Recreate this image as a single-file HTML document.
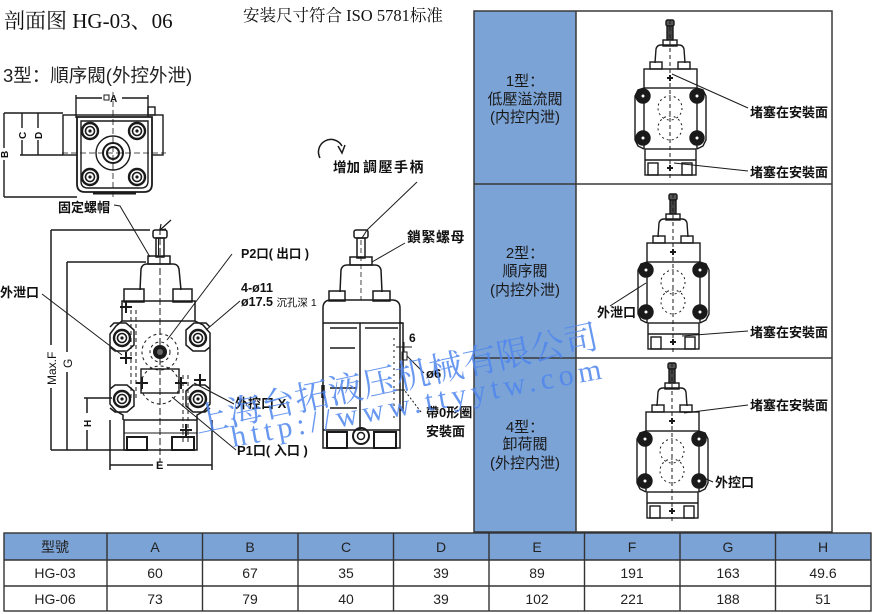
<!DOCTYPE html>
<html>
<head>
<meta charset="utf-8">
<style>
html,body{margin:0;padding:0;background:#fff;}
#wrap{position:relative;width:877px;height:614px;overflow:hidden;background:#fff;}
svg{position:absolute;left:0;top:0;}
.cj{font-family:"Liberation Sans","Noto Sans CJK SC",sans-serif;}
.sf{font-family:"Liberation Serif","Noto Serif CJK SC",serif;}
</style>
</head>
<body>
<div id="wrap">
<svg width="877" height="614" viewBox="0 0 877 614" xmlns="http://www.w3.org/2000/svg">
<defs>
  <g id="bolt">
    <circle r="8" fill="none" stroke="#1a1a1a" stroke-width="2.4"/>
    <circle r="4.5" fill="none" stroke="#1a1a1a" stroke-width="1.6"/>
    <circle r="1.6" fill="#1a1a1a"/>
  </g>
  <g id="sbolt">
    <circle r="7" fill="#1a1a1a"/>
    <circle r="2.2" fill="#fff"/>
  </g>
  <g id="sv" fill="none" stroke="#1a1a1a" stroke-width="1.4">
    <rect x="-4" y="0" width="8" height="6" rx="1.5" fill="#555"/>
    <rect x="-3" y="6" width="6" height="14" fill="#444"/>
    <rect x="-7" y="20" width="14" height="6"/>
    <path d="M-15,43 L-14,29 Q-13,25 -9,25 L9,25 Q13,25 14,29 L15,43"/>
    <rect x="-20" y="42" width="12" height="7"/>
    <rect x="8" y="42" width="12" height="7"/>
    <rect x="-26" y="49" width="53" height="19"/>
    <path d="M-26,68 L-32,70 L-35,76 L-35,120 L-32,126 L-26,129 M27,68 L33,70 L36,76 L36,120 L33,126 L27,129"/>
    <line x1="-26" y1="68" x2="-26" y2="129"/>
    <line x1="27" y1="68" x2="27" y2="129"/>
    <rect x="-25" y="129" width="51" height="26"/>
    <line x1="-25" y1="140" x2="26" y2="140"/>
    <rect x="-22" y="143" width="10" height="12"/>
    <rect x="12" y="143" width="10" height="12"/>
    <line x1="0" y1="0" x2="0" y2="158" stroke-dasharray="4,3" stroke-width="1"/>
    <circle cx="0" cy="88" r="12" stroke-dasharray="2,3" stroke-width="1"/>
    <circle cx="0" cy="108" r="12" stroke-dasharray="2,3" stroke-width="1"/>
    <use href="#sbolt" x="-27" y="76"/>
    <use href="#sbolt" x="27" y="76"/>
    <use href="#sbolt" x="-27" y="118"/>
    <use href="#sbolt" x="27" y="118"/>
    <path d="M-3,58 h6 M0,55 v6 M-3,148 h6 M0,145 v6" stroke-width="2"/>
  </g>
</defs>

<!-- ============ Titles ============ -->
<text x="4" y="28" class="sf" font-size="21" fill="#111">剖面图 HG-03、06</text>
<text x="243" y="21" class="sf" font-size="16.5" fill="#111">安装尺寸符合 ISO 5781标准</text>
<text x="3" y="82" class="cj" font-size="18.5" fill="#222">3型：順序閥(外控外泄)</text>

<!-- ============ Top view ============ -->
<g fill="none" stroke="#1a1a1a" stroke-width="1.4">
  <line x1="76" y1="98" x2="102" y2="98"/>
  <line x1="122" y1="98" x2="148" y2="98"/>
  <line x1="76" y1="95" x2="76" y2="118"/>
  <line x1="148" y1="95" x2="148" y2="118"/>
  <rect x="104" y="95" width="5" height="5" stroke-width="1"/>
  <rect x="148" y="107" width="7" height="8"/>
  <rect x="63" y="115" width="100" height="40"/>
  <path d="M77,117 L152,117 L152,184 Q152,192 144,192 L85,192 Q77,192 77,184 Z" fill="#fff" stroke-width="1.8"/>
  <path d="M81,121 L148,121 L148,181 Q148,188 141,188 L88,188 Q81,188 81,181 Z"/>
  <line x1="93" y1="193" x2="136" y2="193" stroke-width="3"/>
  <circle cx="113" cy="153" r="17"/>
  <circle cx="113" cy="153" r="10" stroke-width="2"/>
  <circle cx="113" cy="153" r="6" stroke-width="2"/>
  <line x1="113" y1="92" x2="113" y2="200" stroke-width="0.8" stroke-dasharray="6,3"/>
  <line x1="62" y1="153" x2="166" y2="153" stroke-width="0.8" stroke-dasharray="6,3"/>
  <line x1="4" y1="113" x2="63" y2="113"/>
  <line x1="4" y1="197" x2="77" y2="197"/>
  <line x1="20" y1="155" x2="63" y2="155"/>
  <line x1="4" y1="113" x2="4" y2="197"/>
  <line x1="22" y1="113" x2="22" y2="155"/>
  <line x1="38" y1="113" x2="38" y2="155"/>
</g>
<use href="#bolt" x="90" y="131"/>
<use href="#bolt" x="137" y="131"/>
<use href="#bolt" x="90" y="177"/>
<use href="#bolt" x="137" y="177"/>
<rect x="3" y="148" width="3" height="12" fill="#fff"/>
<rect x="20" y="128" width="4" height="12" fill="#fff"/>
<rect x="36" y="128" width="4" height="12" fill="#fff"/>
<text x="110" y="102" class="cj" font-size="10" font-weight="bold" fill="#111">A</text>
<text transform="translate(26,139) rotate(-90)" class="cj" font-size="10" font-weight="bold" fill="#111">C</text>
<text transform="translate(42,139) rotate(-90)" class="cj" font-size="10" font-weight="bold" fill="#111">D</text>
<text transform="translate(8,158) rotate(-90)" class="cj" font-size="10" font-weight="bold" fill="#111">B</text>

<!-- labels near top -->
<text x="58" y="212" class="cj" font-size="13" font-weight="bold" fill="#111">固定螺帽</text>
<polyline points="114,205 120,206 150,257" fill="none" stroke="#1a1a1a" stroke-width="1"/>
<line x1="171" y1="220" x2="160" y2="230" stroke="#1a1a1a" stroke-width="1.2"/>
<path d="M160,230 l1,-6 M160,230 l6,-1" stroke="#1a1a1a" stroke-width="1.2" fill="none"/>

<path d="M342,146 A11,11 0 1 0 320,158" fill="none" stroke="#1a1a1a" stroke-width="1.5"/>
<path d="M338,146 L342,153 L345,145" fill="none" stroke="#1a1a1a" stroke-width="1.5"/>
<text x="333" y="172" class="cj" font-size="13.5" font-weight="bold" fill="#111">增加</text>
<text x="363" y="172" class="cj" font-size="14" font-weight="bold" fill="#111" letter-spacing="1.5">調壓手柄</text>
<line x1="417" y1="182" x2="367" y2="230" stroke="#1a1a1a" stroke-width="1"/>
<line x1="367" y1="230" x2="362" y2="238" stroke="#1a1a1a" stroke-width="1"/>

<!-- ============ Front view ============ -->
<g fill="none" stroke="#1a1a1a" stroke-width="1.5">
  <!-- dimension lines -->
  <line x1="51" y1="230" x2="150" y2="230"/>
  <line x1="67" y1="262" x2="146" y2="262"/>
  <line x1="51" y1="450" x2="126" y2="450"/>
  <line x1="84" y1="398" x2="112" y2="398"/>
  <line x1="51" y1="230" x2="51" y2="345"/>
  <line x1="51" y1="388" x2="51" y2="450"/>
  <line x1="67" y1="262" x2="67" y2="352"/>
  <line x1="67" y1="372" x2="67" y2="450"/>
  <line x1="87" y1="398" x2="87" y2="413"/>
  <line x1="87" y1="430" x2="87" y2="450"/>
  <line x1="110" y1="420" x2="110" y2="470"/>
  <line x1="212" y1="420" x2="212" y2="470"/>
  <line x1="110" y1="465" x2="153" y2="465"/>
  <line x1="167" y1="465" x2="212" y2="465"/>

  <!-- stem -->
  <rect x="153" y="230" width="14" height="8" rx="2"/>
  <rect x="156" y="238" width="8" height="19"/>
  <line x1="158.5" y1="238" x2="158.5" y2="257" stroke-width="1"/>
  <rect x="148" y="256" width="22" height="8"/>
  <path d="M140,290 L141,269 Q142,264 147,264 L173,264 Q178,264 179,269 L181,290"/>
  <rect x="124" y="289" width="20" height="13"/>
  <rect x="173" y="289" width="19" height="13"/>
  <rect x="122" y="301" width="73" height="20"/>

  <!-- body -->
  <path d="M122,321 L116,326 L110,334 L110,404 L116,411 L123,415 L123,420"/>
  <path d="M195,321 L203,325 L210,333 L210,404 L204,411 L197,415 L197,420"/>
  <path d="M110,327 L114,323 L126,323 L134,330 L134,345 L127,351 L115,351 L110,347"/>
  <path d="M210,327 L206,323 L194,323 L186,330 L186,345 L193,351 L205,351 L210,347"/>
  <path d="M110,389 L115,385 L127,385 L134,391 L134,406 L127,412 L115,412 L110,408"/>
  <path d="M210,389 L205,385 L193,385 L186,391 L186,406 L193,412 L205,412 L210,408"/>
  <!-- bottom -->
  <rect x="124" y="420" width="73" height="30"/>
  <rect x="127" y="437" width="20" height="13" stroke-width="2"/>
  <rect x="172" y="437" width="22" height="13" stroke-width="2"/>
  <line x1="124" y1="433" x2="197" y2="433" stroke-width="1"/>
  <!-- ports -->
  <circle cx="160" cy="352" r="18" stroke-width="1" stroke-dasharray="3,3"/>
  <circle cx="160" cy="352" r="10" stroke-width="1" stroke-dasharray="3,3"/>
  <rect x="141" y="369" width="38" height="24" stroke-width="1.4"/>
  <circle cx="160" cy="385" r="19" stroke-width="1" stroke-dasharray="3,3"/>
  <line x1="160" y1="228" x2="160" y2="462" stroke-width="1" stroke-dasharray="7,3"/>
  <!-- internal dashed passages -->
  <line x1="131" y1="310" x2="131" y2="400" stroke-width="1" stroke-dasharray="4,3"/>
  <line x1="136" y1="310" x2="136" y2="400" stroke-width="1" stroke-dasharray="4,3"/>
  <line x1="183" y1="375" x2="183" y2="445" stroke-width="1" stroke-dasharray="4,3"/>
  <line x1="188" y1="375" x2="188" y2="445" stroke-width="1" stroke-dasharray="4,3"/>
  <path d="M120,358 h12 M126,352 v12 M120,307 h12 M126,301 v12 M194,380 h12 M200,374 v12 M180,430 h12 M186,424 v12 M136,383 h12 M142,377 v12 M175,383 h12 M181,377 v12" stroke-width="2"/>
</g>
<circle cx="160" cy="352" r="7" fill="#1a1a1a"/>
<circle cx="160" cy="352" r="3" fill="#666"/>
<use href="#bolt" x="122" y="338"/>
<use href="#bolt" x="198" y="338"/>
<use href="#bolt" x="122" y="399"/>
<use href="#bolt" x="198" y="399"/>

<text transform="translate(56,385) rotate(-90)" class="cj" font-size="12" fill="#111">Max.F</text>
<text transform="translate(72,368) rotate(-90)" class="cj" font-size="12" fill="#111">G</text>
<text transform="translate(91,427) rotate(-90)" class="cj" font-size="10" font-weight="bold" fill="#111">H</text>
<text x="156" y="469" class="cj" font-size="11" font-weight="bold" fill="#111">E</text>

<!-- front labels -->
<text x="0" y="297" class="cj" font-size="13" font-weight="bold" fill="#111">外泄口</text>
<line x1="42" y1="294" x2="122" y2="355" stroke="#1a1a1a" stroke-width="1"/>
<text x="241" y="258" class="cj" font-size="12.5" font-weight="bold" fill="#111">P2口( 出口 )</text>
<line x1="232" y1="254" x2="167" y2="340" stroke="#1a1a1a" stroke-width="1"/>
<text x="241" y="292" class="cj" font-size="12.5" font-weight="bold" fill="#111">4-ø11</text>
<text x="241" y="306" class="cj" font-size="12.5" font-weight="bold" fill="#111">ø17.5 <tspan font-size="10.5" font-weight="normal">沉孔深 1</tspan></text>
<line x1="240" y1="301" x2="206" y2="330" stroke="#1a1a1a" stroke-width="1"/>
<text x="235" y="408" class="cj" font-size="13" font-weight="bold" fill="#111">外控口 X</text>
<line x1="234" y1="404" x2="194" y2="383" stroke="#1a1a1a" stroke-width="1"/>
<text x="237" y="455" class="cj" font-size="13" font-weight="bold" fill="#111">P1口( 入口 )</text>
<line x1="236" y1="450" x2="172" y2="397" stroke="#1a1a1a" stroke-width="1"/>

<!-- ============ Side view ============ -->
<g fill="none" stroke="#1a1a1a" stroke-width="1.5">
  <rect x="354" y="230" width="14" height="8" rx="2"/>
  <rect x="357" y="238" width="8" height="20"/>
  <rect x="350" y="257" width="22" height="8"/>
  <path d="M340,292 L341,270 Q342,265 347,265 L375,265 Q380,265 381,270 L382,292"/>
  <rect x="329" y="291" width="16" height="10"/>
  <rect x="373" y="291" width="17" height="10"/>
  <path d="M323,448 L323,308 Q323,300 331,300 L392,300 Q400,300 400,308 L400,448 Z"/>
  <line x1="323" y1="323" x2="402" y2="323"/>
  <path d="M400,323 L403,323 L403,410 L400,410"/>
  <line x1="360" y1="323" x2="360" y2="430"/>
  <line x1="330" y1="328" x2="357" y2="328"/>
  <line x1="330" y1="348" x2="355" y2="348"/>
  <line x1="330" y1="388" x2="357" y2="388"/>
  <line x1="330" y1="408" x2="357" y2="408"/>
  <line x1="365" y1="328" x2="398" y2="328"/>
  <line x1="323" y1="430" x2="400" y2="430"/>
  <rect x="327" y="432" width="20" height="16" stroke-width="2"/>
  <rect x="374" y="432" width="22" height="16" stroke-width="2"/>
  <circle cx="361" cy="436" r="8" stroke-width="2"/>
  <circle cx="361" cy="436" r="3.5"/>
  <line x1="361" y1="240" x2="361" y2="300" stroke-width="0.8" stroke-dasharray="5,3"/>
  <line x1="404" y1="342" x2="404" y2="352" stroke-width="1"/>
  <line x1="396" y1="347" x2="412" y2="347" stroke-width="1"/>
  <rect x="402" y="352" width="5" height="8" stroke-width="1"/>
  <line x1="395" y1="390" x2="405" y2="390" stroke-width="1"/>
  <line x1="394" y1="338" x2="394" y2="420" stroke-width="1" stroke-dasharray="2,4"/>
</g>
<line x1="323" y1="385" x2="323" y2="398" stroke="#1a1a1a" stroke-width="3.5"/>
<text x="407" y="242" class="cj" font-size="14" font-weight="bold" fill="#111" letter-spacing="0.5">鎖緊螺母</text>
<line x1="405" y1="243" x2="372" y2="262" stroke="#1a1a1a" stroke-width="1"/>
<text x="409" y="342" class="cj" font-size="12" font-weight="bold" fill="#111">6</text>
<text x="426" y="378" class="cj" font-size="13" font-weight="bold" fill="#111">ø6</text>
<line x1="424" y1="373" x2="407" y2="356" stroke="#1a1a1a" stroke-width="1"/>
<text x="426" y="417" class="cj" font-size="13" font-weight="bold" fill="#111">帶0形圈</text>
<text x="426" y="436" class="cj" font-size="13" font-weight="bold" fill="#111">安裝面</text>
<line x1="421" y1="412" x2="405" y2="391" stroke="#1a1a1a" stroke-width="1" stroke-dasharray="2,2"/>

<!-- ============ Right panel ============ -->
<rect x="474" y="11" width="102" height="521" fill="#7ba3d6"/>
<g fill="none" stroke="#3a3a3a" stroke-width="1.5">
  <rect x="474" y="11" width="358" height="521"/>
  <line x1="576" y1="11" x2="576" y2="532"/>
  <line x1="474" y1="184" x2="832" y2="184"/>
  <line x1="474" y1="358" x2="832" y2="358"/>
</g>
<g class="cj" font-size="15" fill="#1a1a1a" text-anchor="middle">
  <text x="525" y="86">1型：</text>
  <text x="525" y="104">低壓溢流閥</text>
  <text x="525" y="122">(内控内泄)</text>
  <text x="525" y="258">2型：</text>
  <text x="525" y="276">順序閥</text>
  <text x="525" y="295">(内控外泄)</text>
  <text x="525" y="432">4型：</text>
  <text x="525" y="449">卸荷閥</text>
  <text x="525" y="468">(外控内泄)</text>
</g>

<use href="#sv" transform="translate(670,20)"/>
<use href="#sv" transform="translate(673,194)"/>
<use href="#sv" transform="translate(672,363)"/>

<g class="cj" font-size="13" font-weight="bold" fill="#111">
  <text x="750" y="117">堵塞在安裝面</text>
  <text x="750" y="177">堵塞在安裝面</text>
  <text x="597" y="317">外泄口</text>
  <text x="750" y="337">堵塞在安裝面</text>
  <text x="750" y="410">堵塞在安裝面</text>
  <text x="715" y="487">外控口</text>
</g>
<g stroke="#1a1a1a" stroke-width="1">
  <line x1="748" y1="108" x2="672" y2="74"/>
  <line x1="748" y1="171" x2="674" y2="163"/>
  <line x1="610" y1="306" x2="646" y2="283"/>
  <line x1="748" y1="331" x2="682" y2="336"/>
  <line x1="748" y1="405" x2="684" y2="413"/>
  <line x1="713" y1="482" x2="704" y2="478"/>
</g>

<!-- ============ Watermark ============ -->
<text transform="translate(197,433) rotate(-12)" class="sf" font-size="34" fill="#4f86ee" fill-opacity="0.85" textLength="412">上海台拓液压机械有限公司</text>
<text transform="translate(233,447) rotate(-10.5)" class="sf" font-size="30" fill="#4f86ee" fill-opacity="0.85" textLength="376" lengthAdjust="spacing">http://www.ttyytw.com</text>

<!-- ============ Bottom table ============ -->
<rect x="4" y="533" width="867" height="27" fill="#7ba3d6"/>
<g fill="none" stroke="#333" stroke-width="1.4">
  <rect x="4" y="533" width="867" height="78"/>
  <line x1="4" y1="560" x2="871" y2="560"/>
  <line x1="4" y1="586" x2="871" y2="586"/>
  <line x1="107" y1="533" x2="107" y2="611"/>
  <line x1="202.5" y1="533" x2="202.5" y2="611"/>
  <line x1="298" y1="533" x2="298" y2="611"/>
  <line x1="393.5" y1="533" x2="393.5" y2="611"/>
  <line x1="489" y1="533" x2="489" y2="611"/>
  <line x1="584.5" y1="533" x2="584.5" y2="611"/>
  <line x1="680" y1="533" x2="680" y2="611"/>
  <line x1="775.5" y1="533" x2="775.5" y2="611"/>
</g>
<g class="cj" font-size="14" fill="#222" text-anchor="middle">
  <text x="55" y="552">型號</text>
  <text x="155" y="552">A</text>
  <text x="250" y="552">B</text>
  <text x="346" y="552">C</text>
  <text x="441" y="552">D</text>
  <text x="537" y="552">E</text>
  <text x="632" y="552">F</text>
  <text x="728" y="552">G</text>
  <text x="823" y="552">H</text>

  <text x="55" y="578">HG-03</text>
  <text x="155" y="578">60</text>
  <text x="250" y="578">67</text>
  <text x="346" y="578">35</text>
  <text x="441" y="578">39</text>
  <text x="537" y="578">89</text>
  <text x="632" y="578">191</text>
  <text x="728" y="578">163</text>
  <text x="823" y="578">49.6</text>

  <text x="55" y="604">HG-06</text>
  <text x="155" y="604">73</text>
  <text x="250" y="604">79</text>
  <text x="346" y="604">40</text>
  <text x="441" y="604">39</text>
  <text x="537" y="604">102</text>
  <text x="632" y="604">221</text>
  <text x="728" y="604">188</text>
  <text x="823" y="604">51</text>
</g>
</svg>
</div>
</body>
</html>
